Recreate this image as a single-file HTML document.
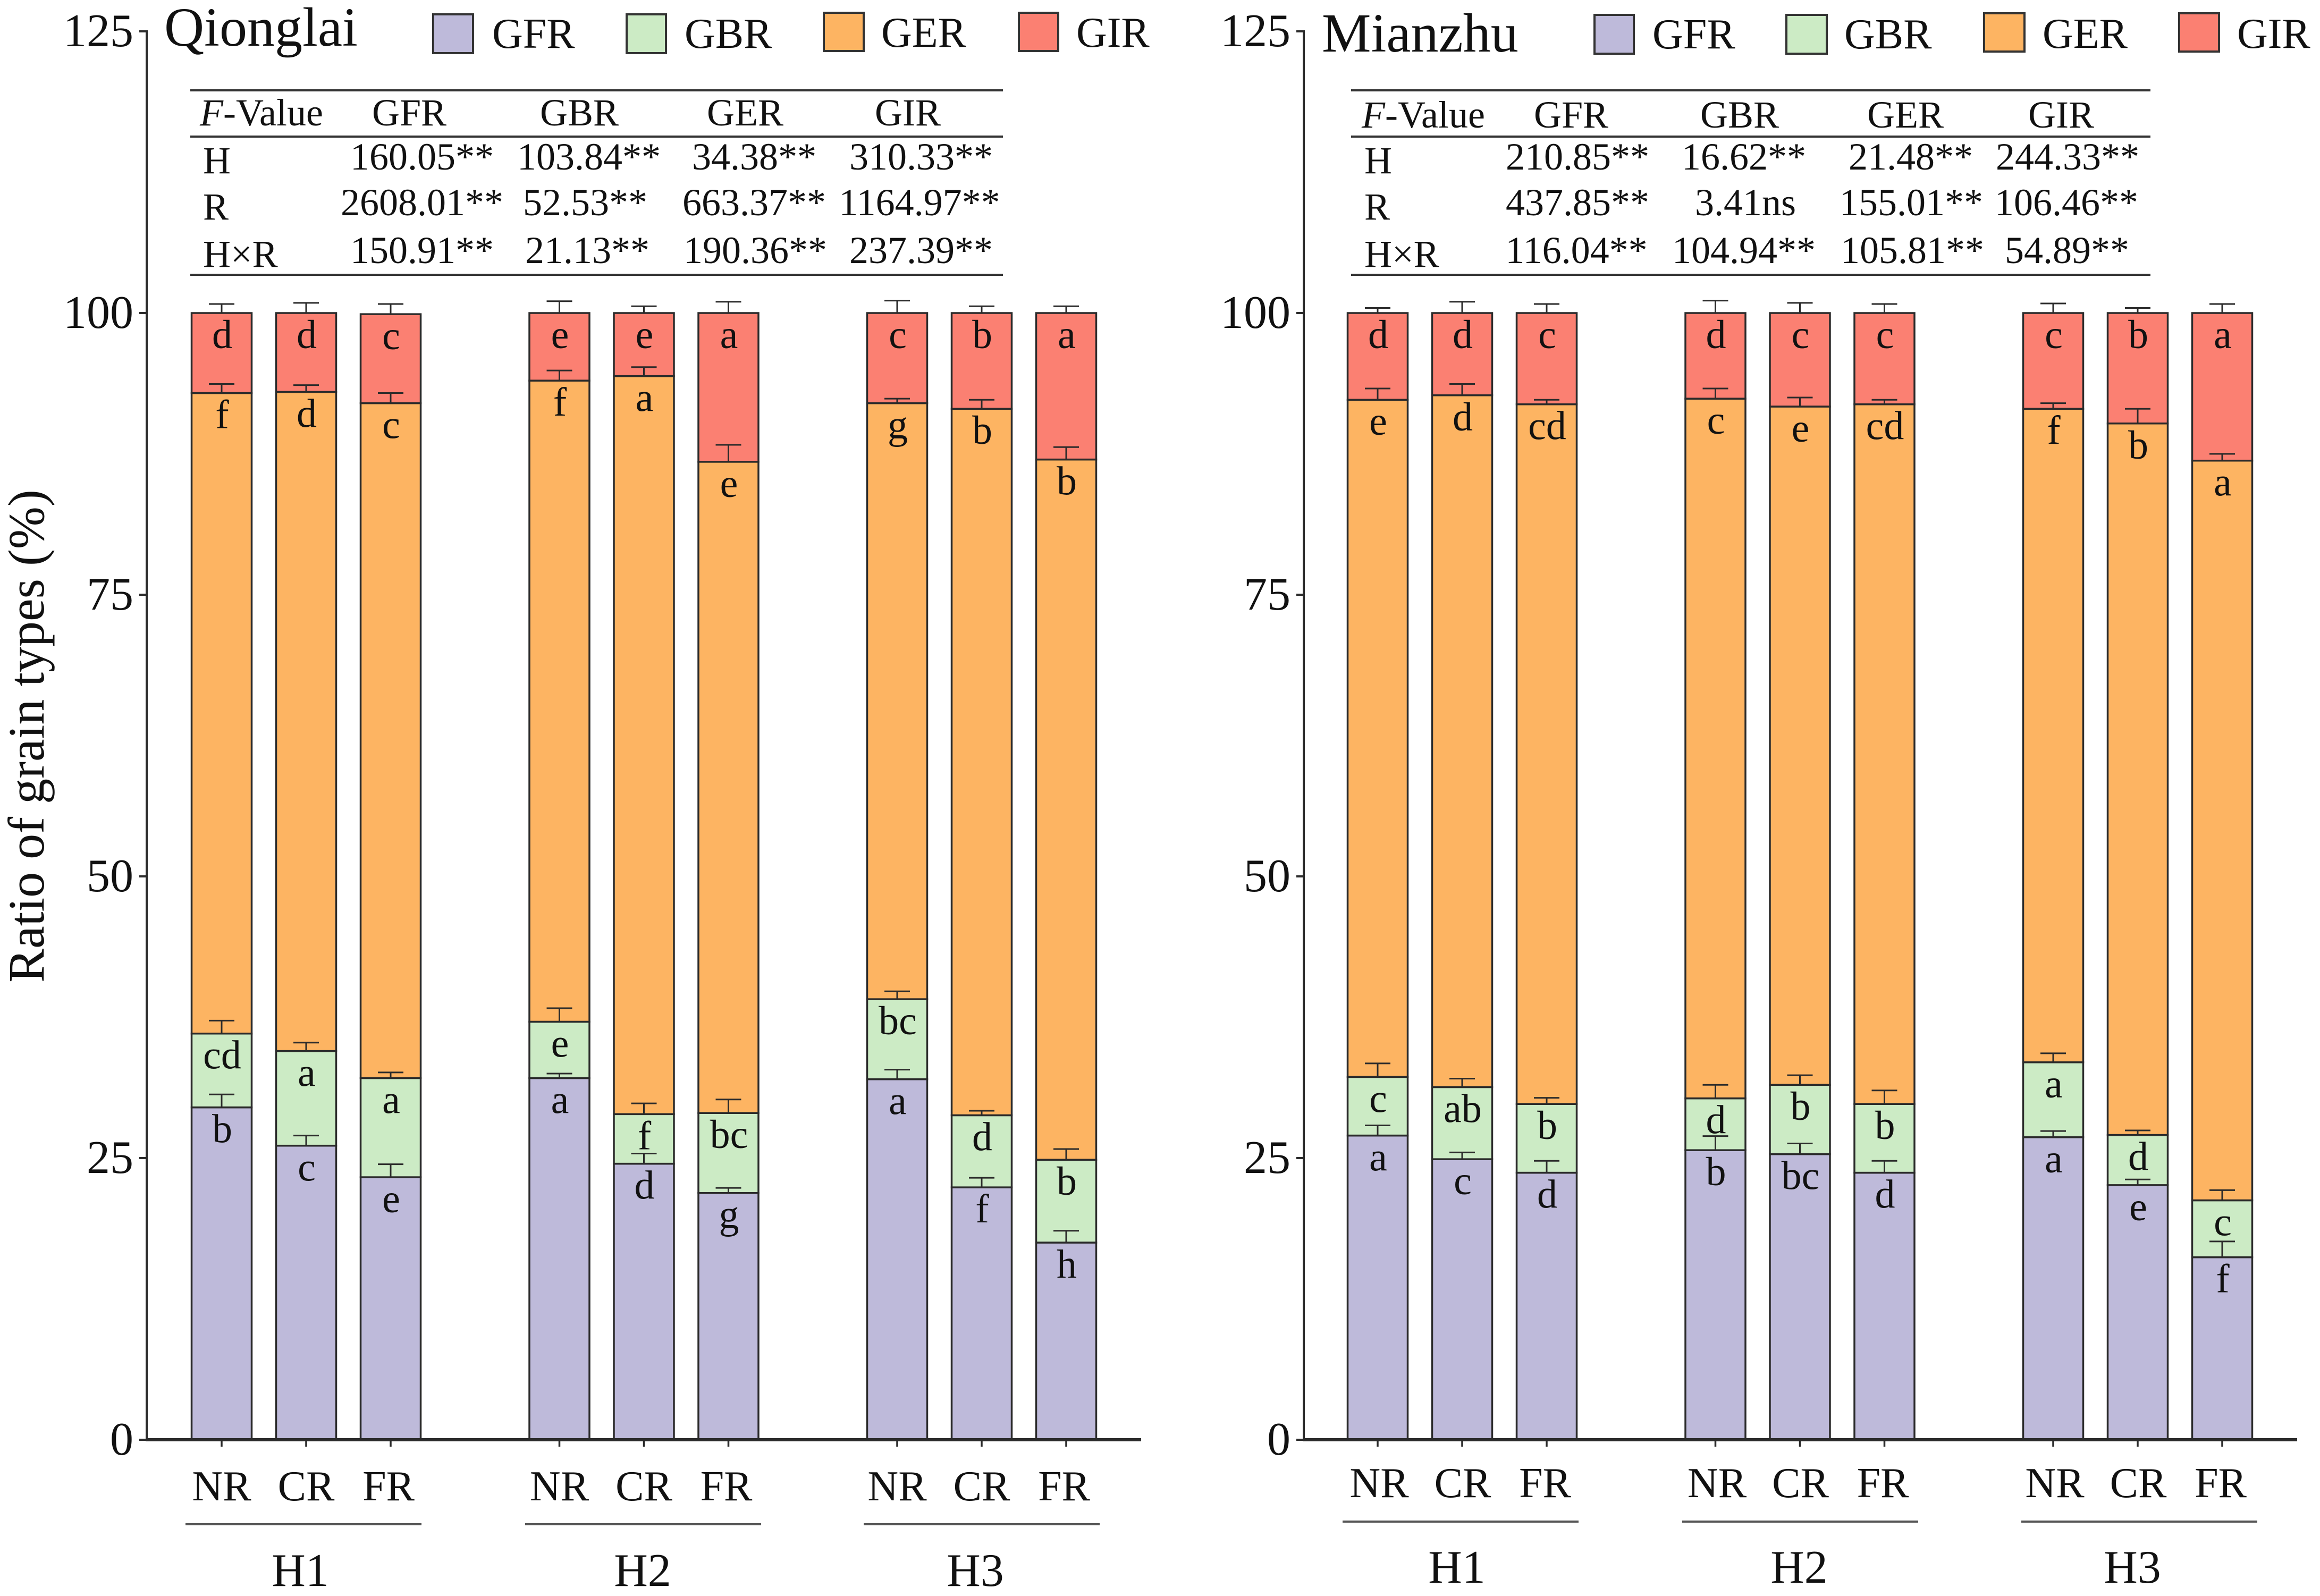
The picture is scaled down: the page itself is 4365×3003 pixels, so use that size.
<!DOCTYPE html>
<html>
<head>
<meta charset="utf-8">
<title>Ratio of grain types</title>
<style>
html,body{margin:0;padding:0;background:#fff;}
svg{display:block;font-family:"Liberation Serif",serif;fill:#111;}
.rule{stroke:#333;stroke-width:4;}
.hd{font-size:72px;text-anchor:middle;}
.val{font-size:72px;text-anchor:middle;}
.lab{font-size:72px;}
.leg{font-size:80px;}
.ttl{font-size:104px;}
.sw{stroke:#333;stroke-width:4;}
</style>
</head>
<body>
<svg id="chart" xmlns="http://www.w3.org/2000/svg" width="4365" height="3003" viewBox="0 0 4365 3003">
  <rect width="4365" height="3003" fill="#fff"/>
  <text transform="translate(82,1385) rotate(-90)" text-anchor="middle" font-size="96">Ratio of grain types (%)</text>

  <g>
    <text class="ttl" x="309" y="86">Qionglai</text>
    <rect class="sw" x="815" y="27" width="75" height="73" fill="#BEBADA"/>
    <text class="leg" x="926" y="90">GFR</text>
    <rect class="sw" x="1179" y="27" width="74" height="73" fill="#CCEBC5"/>
    <text class="leg" x="1288" y="90">GBR</text>
    <rect class="sw" x="1550" y="24" width="75" height="72" fill="#FDB462"/>
    <text class="leg" x="1658" y="88">GER</text>
    <rect class="sw" x="1917" y="24" width="74" height="72" fill="#FB8072"/>
    <text class="leg" x="2025" y="88">GIR</text>
  </g>

  <g>
    <line class="rule" x1="358" x2="1887" y1="170" y2="170"/>
    <line class="rule" x1="358" x2="1887" y1="257" y2="257"/>
    <line class="rule" x1="358" x2="1887" y1="517" y2="517"/>
    <text class="lab" x="376" y="236"><tspan font-style="italic">F</tspan>-Value</text>
    <text class="hd" x="770" y="236">GFR</text>
    <text class="hd" x="1090" y="236">GBR</text>
    <text class="hd" x="1402" y="236">GER</text>
    <text class="hd" x="1708" y="236">GIR</text>
    <text class="lab" x="382" y="326">H</text>
    <text class="val" x="794" y="319">160.05**</text>
    <text class="val" x="1108" y="319">103.84**</text>
    <text class="val" x="1419" y="319">34.38**</text>
    <text class="val" x="1733" y="319">310.33**</text>
    <text class="lab" x="382" y="413">R</text>
    <text class="val" x="794" y="405">2608.01**</text>
    <text class="val" x="1101" y="405">52.53**</text>
    <text class="val" x="1419" y="405">663.37**</text>
    <text class="val" x="1730" y="405">1164.97**</text>
    <text class="lab" x="382" y="502">H×R</text>
    <text class="val" x="794" y="495">150.91**</text>
    <text class="val" x="1105" y="495">21.13**</text>
    <text class="val" x="1421" y="495">190.36**</text>
    <text class="val" x="1733" y="495">237.39**</text>
  </g>

  <g>
    <text class="ttl" x="2487" y="97">Mianzhu</text>
    <rect class="sw" x="3000" y="28" width="74" height="73" fill="#BEBADA"/>
    <text class="leg" x="3109" y="91">GFR</text>
    <rect class="sw" x="3361" y="28" width="76" height="73" fill="#CCEBC5"/>
    <text class="leg" x="3470" y="91">GBR</text>
    <rect class="sw" x="3733" y="25" width="76" height="72" fill="#FDB462"/>
    <text class="leg" x="3843" y="90">GER</text>
    <rect class="sw" x="4100" y="25" width="75" height="72" fill="#FB8072"/>
    <text class="leg" x="4209" y="90">GIR</text>
  </g>

  <g>
    <line class="rule" x1="2542" x2="4046" y1="170" y2="170"/>
    <line class="rule" x1="2542" x2="4046" y1="257" y2="257"/>
    <line class="rule" x1="2542" x2="4046" y1="517" y2="517"/>
    <text class="lab" x="2562" y="240"><tspan font-style="italic">F</tspan>-Value</text>
    <text class="hd" x="2956" y="240">GFR</text>
    <text class="hd" x="3273" y="240">GBR</text>
    <text class="hd" x="3585" y="240">GER</text>
    <text class="hd" x="3878" y="240">GIR</text>
    <text class="lab" x="2567" y="326">H</text>
    <text class="val" x="2968" y="319">210.85**</text>
    <text class="val" x="3281" y="319">16.62**</text>
    <text class="val" x="3595" y="319">21.48**</text>
    <text class="val" x="3890" y="319">244.33**</text>
    <text class="lab" x="2567" y="413">R</text>
    <text class="val" x="2968" y="405">437.85**</text>
    <text class="val" x="3284" y="405">3.41ns</text>
    <text class="val" x="3596" y="405">155.01**</text>
    <text class="val" x="3888" y="405">106.46**</text>
    <text class="lab" x="2567" y="502">H×R</text>
    <text class="val" x="2966" y="495">116.04**</text>
    <text class="val" x="3281" y="495">104.94**</text>
    <text class="val" x="3598" y="495">105.81**</text>
    <text class="val" x="3889" y="495">54.89**</text>
  </g>
</svg>
<script>
// Shared categories and tick labels
const rootstocks = ['NR','CR','FR'];
const hybrids = ['H1','H2','H3'];
const yTicks = [0,25,50,75,100,125];
const seriesNames = ['GFR','GBR','GER','GIR'];

// Qionglai: mean ratio of each grain type (%)
const qGFR = [29.5,26.1,23.3,32.1,24.5,21.9,32.0,22.4,17.5];
const qGBR = [6.55,8.4,8.8,5.0,4.4,7.1,7.1,6.4,7.35];
const qGER = [56.85,58.5,59.9,56.9,65.5,57.8,52.9,62.7,62.15];
const qGIR = [7.1,7.0,7.9,6.0,5.6,13.2,8.0,8.5,13.0];
// Qionglai: error bar sizes
const qGFRerr = [1.15,0.9,1.15,0.4,0.9,0.45,0.85,0.85,1.05];
const qGBRerr = [1.15,0.75,0.5,1.2,0.95,1.2,0.7,0.4,0.95];
const qGERerr = [0.8,0.6,0.9,0.9,0.8,1.5,0.4,0.8,1.1];
const qGIRerr = [0.8,0.9,0.9,1.05,0.6,1.0,1.1,0.6,0.6];
// Qionglai: significance letters
const qGFRsig = ['b','c','e','a','d','g','a','f','h'];
const qGBRsig = ['cd','a','a','e','f','bc','bc','d','b'];
const qGERsig = ['f','d','c','f','a','e','g','b','b'];
const qGIRsig = ['d','d','c','e','e','a','c','b','a'];

// Mianzhu: mean ratio of each grain type (%)
const mGFR = [27.0,24.9,23.7,25.7,25.35,23.7,26.85,22.6,16.2];
const mGBR = [5.2,6.4,6.1,4.6,6.15,6.1,6.65,4.45,5.05];
const mGER = [60.1,61.4,62.1,62.1,60.2,62.1,58.0,63.15,65.65];
const mGIR = [7.7,7.3,8.1,7.6,8.3,8.1,8.5,9.8,13.1];
// Mianzhu: error bar sizes
const mGFRerr = [0.9,0.6,1.05,1.25,0.95,1.05,0.55,0.5,1.4];
const mGBRerr = [1.2,0.75,0.55,1.2,0.85,1.2,0.8,0.4,0.9];
const mGERerr = [1.0,1.0,0.4,0.9,0.8,0.4,0.5,1.3,0.6];
const mGIRerr = [0.45,1.0,0.8,1.1,0.9,0.8,0.85,0.45,0.8];
// Mianzhu: significance letters
const mGFRsig = ['a','c','d','b','bc','d','a','e','f'];
const mGBRsig = ['c','ab','b','d','b','b','a','d','c'];
const mGERsig = ['e','d','cd','c','e','cd','f','b','a'];
const mGIRsig = ['d','d','c','d','c','c','c','b','a'];

const svg = document.getElementById('chart');
const NS = 'http://www.w3.org/2000/svg';
const COLORS = ['#BEBADA','#CCEBC5','#FDB462','#FB8072'];
const INK = '#2b2b2b';

function yScale(v){ return 2709 - v * 21.2; }

function mk(tag, attrs, parent, text){
  const el = document.createElementNS(NS, tag);
  for (const k in attrs) el.setAttribute(k, attrs[k]);
  if (text !== undefined) el.textContent = text;
  parent.appendChild(el);
  return el;
}

function drawPanel(p){
  const g = mk('g', {}, svg);
  
  
  const xBar = i => p.x0 + (i % 3) * 159 + Math.floor(i / 3) * 635.5;

  // stacked bars
  p.series[0].forEach((_, i) => {
    let base = 0;
    const x = xBar(i);
    p.series.forEach((vals, s) => {
      const top = base + vals[i];
      const bar = mk('rect', {x: x - 56.5, y: yScale(top), width: 113, height: yScale(base) - yScale(top), fill: COLORS[s], stroke: INK, 'stroke-width': 3.5}, g);
      
      
      base = top;
    });
  });

  // error bars and letters (on top of bars)
  p.series[0].forEach((_, i) => {
    let base = 0;
    const x = xBar(i);
    p.series.forEach((vals, s) => {
      const top = base + vals[i];
      const cap = top + p.errors[s][i];
      const stem = mk('line', {x1: x, x2: x, y1: yScale(top), y2: yScale(cap), stroke: INK, 'stroke-width': 3}, g);
      
      
      const capLine = mk('line', {x1: x - 24, x2: x + 24, y1: yScale(cap), y2: yScale(cap), stroke: INK, 'stroke-width': 3}, g);
      
      
      const letter = mk('text', {x: x + 1, y: yScale(top) + 66, 'text-anchor': 'middle', 'font-size': 76}, g, p.letters[s][i]);
      
      
      base = top;
    });
  });

  // y axis
  const yAxis = mk('line', {x1: p.axisX, x2: p.axisX, y1: yScale(125) - 2, y2: yScale(0) + 2, stroke: INK, 'stroke-width': 4}, g);
  
  
  yTicks.forEach(t => {
    const tick = mk('line', {x1: p.axisX - 14, x2: p.axisX, y1: yScale(t), y2: yScale(t), stroke: INK, 'stroke-width': 4}, g);
    
    
    const label = mk('text', {x: p.axisX - 25, y: yScale(t) + 28, 'text-anchor': 'end', 'font-size': 88}, g, String(t));
    
    
  });

  // x axis
  const xAxis = mk('line', {x1: p.axisX - 2, x2: p.axisEnd, y1: yScale(0), y2: yScale(0), stroke: INK, 'stroke-width': 6}, g);
  
  
  p.series[0].forEach((_, i) => {
    const x = xBar(i);
    const tick = mk('line', {x1: x, x2: x, y1: yScale(0), y2: yScale(0) + 13, stroke: INK, 'stroke-width': 3.5}, g);
    
    
    const label = mk('text', {x: x + p.labelShift[i % 3], y: p.labelY, 'text-anchor': 'middle', 'font-size': 80}, g, rootstocks[i % 3]);
    
    
  });

  // hybrid group brackets
  hybrids.forEach((h, k) => {
    const rule = mk('line', {x1: p.groupX[k] - 222, x2: p.groupX[k] + 222, y1: p.groupLineY, y2: p.groupLineY, stroke: '#555', 'stroke-width': 4}, g);
    
    
    const label = mk('text', {x: p.groupLabelX[k], y: p.groupLabelY, 'text-anchor': 'middle', 'font-size': 88}, g, h);
    
    
  });
}

drawPanel({
  name: 'qionglai-panel', x0: 417, axisX: 276, axisEnd: 2147,
  labelShift: [0, 0, -4], labelY: 2823, groupLineY: 2868, groupLabelY: 2984,
  groupX: [571, 1210, 1847], groupLabelX: [565, 1209, 1835],
  series: [qGFR, qGBR, qGER, qGIR],
  errors: [qGFRerr, qGBRerr, qGERerr, qGIRerr],
  letters: [qGFRsig, qGBRsig, qGERsig, qGIRsig]
});
drawPanel({
  name: 'mianzhu-panel', x0: 2592, axisX: 2453, axisEnd: 4322,
  labelShift: [3, 1, -3], labelY: 2817, groupLineY: 2863, groupLabelY: 2978,
  groupX: [2748, 3387, 4025], groupLabelX: [2741, 3385, 4012],
  series: [mGFR, mGBR, mGER, mGIR],
  errors: [mGFRerr, mGBRerr, mGERerr, mGIRerr],
  letters: [mGFRsig, mGBRsig, mGERsig, mGIRsig]
});
</script>
</body>
</html>
